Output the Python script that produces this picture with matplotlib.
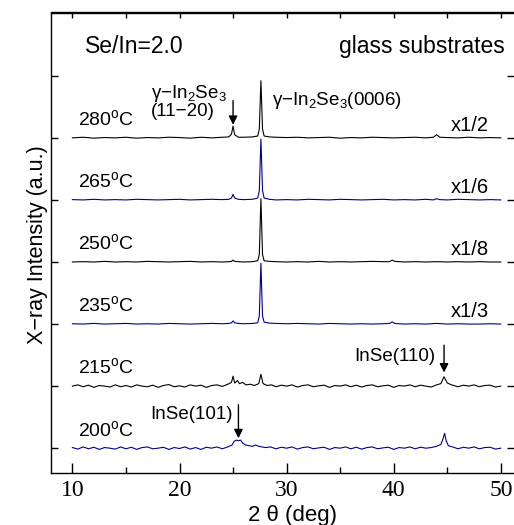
import matplotlib
matplotlib.use("Agg")
import matplotlib.pyplot as plt
import numpy as np

plt.rcParams['font.family'] = ['Liberation Sans', 'DejaVu Sans']
plt.rcParams['mathtext.fontset'] = 'custom'
plt.rcParams['mathtext.rm'] = 'Liberation Sans'
plt.rcParams['mathtext.it'] = 'Liberation Sans:italic'

# ---------------- data (intensity in stacked units) ----------------
x_a = [10, 11, 12, 13, 14, 15, 16, 17, 18, 19,
       20, 21, 22, 23, 24, 24.6, 24.85, 25.0, 25.15, 25.5,
       26, 26.8, 27.3, 27.45, 27.6, 27.75, 27.9, 28.4, 29, 30,
       31, 32, 33, 34, 35, 36, 37, 38, 39, 40,
       41, 42, 43, 43.7, 44.0, 44.3, 45, 46, 47, 48,
       49, 50]
x_b = [10, 11, 12, 13, 14, 15, 16, 17, 18, 19,
       20, 21, 22, 23, 24, 24.6, 24.85, 25.0, 25.15, 25.5,
       26, 26.8, 27.3, 27.45, 27.6, 27.75, 27.9, 28.4, 29, 30,
       31, 32, 33, 34, 35, 36, 37, 38, 39, 39.6,
       39.85, 40.1, 40.5, 41, 42, 43, 44, 45, 46, 47,
       48, 49, 50]

y280 = [0.00, 0.01, -0.005, 0.005, 0.0, 0.01, -0.005, 0.005, 0.0, 0.01,
        0.005, -0.005, 0.01, 0.0, 0.01, 0.015, 0.06, 0.19, 0.05, 0.01,
        0.01, 0.015, 0.03, 0.14, 0.92, 0.14, 0.03, 0.015, 0.01, 0.005,
        0.01, 0.0, 0.005, 0.01, -0.005, 0.005, 0.0, 0.01, 0.005, 0.0,
        0.005, 0.01, 0.0, 0.01, 0.05, 0.01, 0.005, 0.0, 0.01, 0.0,
        0.005, 0.0]
y265 = [0.005, 0.0, 0.01, 0.0, 0.005, 0.0, 0.01, 0.005, 0.0, 0.005,
        0.01, 0.0, 0.005, 0.01, 0.005, 0.01, 0.03, 0.09, 0.03, 0.01,
        0.005, 0.01, 0.03, 0.15, 0.98, 0.15, 0.03, 0.01, 0.0, 0.005,
        0.0, 0.01, 0.005, 0.0, 0.01, 0.005, 0.0, 0.005, 0.01, 0.0,
        0.005, 0.0, 0.01, 0.0, 0.02, 0.005, 0.0, 0.01, 0.005, 0.0,
        0.005, 0.0]
y250 = [0.0, 0.005, 0.0, 0.01, 0.0, 0.005, 0.0, 0.01, 0.005, 0.0,
        0.005, 0.01, 0.0, 0.005, 0.0, 0.005, 0.01, 0.03, 0.01, 0.005,
        0.0, 0.005, 0.02, 0.12, 1.02, 0.12, 0.02, 0.01, 0.005, 0.0,
        0.005, 0.0, 0.01, 0.0, 0.005, 0.0, 0.005, 0.01, 0.005, 0.005,
        0.03, 0.01, 0.005, 0.0, 0.005, 0.0, 0.005, 0.0, 0.005, 0.0,
        0.005, 0.0, 0.0]
y235 = [0.005, 0.0, 0.01, 0.0, 0.005, 0.01, 0.0, 0.005, 0.0, 0.01,
        0.005, 0.0, 0.005, 0.01, 0.005, 0.01, 0.02, 0.05, 0.02, 0.01,
        0.005, 0.01, 0.02, 0.13, 0.98, 0.13, 0.03, 0.015, 0.01, 0.005,
        0.01, 0.005, 0.0, 0.01, 0.005, 0.0, 0.005, 0.0, 0.005, 0.01,
        0.035, 0.01, 0.005, 0.0, 0.005, 0.0, 0.01, 0.0, 0.005, 0.0,
        0.0, 0.005, 0.0]

x215 = [10, 10.5, 11, 11.5, 12, 12.5, 13, 13.5, 14, 14.5,
        15, 15.5, 16, 16.5, 17, 17.5, 18, 18.5, 19, 19.5,
        20, 20.5, 21, 21.5, 22, 22.5, 23, 23.5, 24, 24.5,
        24.85, 25.0, 25.15, 25.4, 25.6, 25.9, 26.2, 26.6, 27.0, 27.4,
        27.6, 27.8, 28.2, 28.6, 29, 29.5, 30, 30.5, 31, 31.5,
        32, 32.5, 33, 33.5, 34, 34.5, 35, 35.5, 36, 36.5,
        37, 37.5, 38, 38.5, 39, 39.5, 40, 40.5, 41, 41.5,
        42, 42.5, 43, 43.5, 44, 44.4, 44.7, 45.0, 45.4, 46,
        46.5, 47, 47.5, 48, 48.5, 49, 49.5, 50]
y215 = [0.0, 0.02, -0.01, 0.015, -0.02, 0.01, 0.0, -0.015, 0.02, -0.01,
        0.01, -0.015, 0.02, 0.0, -0.01, 0.015, -0.02, 0.01, 0.025, -0.01,
        0.005, -0.015, 0.02, 0.0, 0.015, -0.02, 0.01, 0.02, -0.005, 0.03,
        0.06, 0.16, 0.05, 0.09, 0.04, 0.06, 0.02, 0.03, 0.01, 0.04,
        0.19, 0.04, 0.01, 0.02, -0.01, 0.015, 0.0, 0.02, -0.015, 0.01,
        0.02, -0.01, 0.005, 0.015, -0.02, 0.01, 0.0, 0.02, -0.01, 0.015,
        -0.015, 0.01, 0.02, -0.01, 0.005, 0.015, -0.02, 0.01, 0.0, 0.02,
        -0.01, 0.015, 0.0, -0.015, 0.02, 0.04, 0.15, 0.05, 0.02, -0.01,
        0.015, 0.0, 0.02, -0.01, 0.01, 0.015, -0.015, 0.0]

x200 = [10, 10.5, 11, 11.5, 12, 12.5, 13, 13.5, 14, 14.5,
        15, 15.5, 16, 16.5, 17, 17.5, 18, 18.5, 19, 19.5,
        20, 20.5, 21, 21.5, 22, 22.5, 23, 23.5, 24, 24.5,
        24.9, 25.1, 25.3, 25.5, 25.7, 25.9, 26.2, 26.5, 26.8, 27.1,
        27.4, 27.7, 28.0, 28.5, 29, 29.5, 30, 30.5, 31, 31.5,
        32, 32.5, 33, 33.5, 34, 34.5, 35, 35.5, 36, 36.5,
        37, 37.5, 38, 38.5, 39, 39.5, 40, 40.5, 41, 41.5,
        42, 42.5, 43, 43.5, 44, 44.4, 44.6, 44.75, 44.9, 45.1,
        45.5, 46, 46.5, 47, 47.5, 48, 48.5, 49, 49.5, 50]
y200 = [0.01, -0.015, 0.02, -0.01, 0.015, -0.02, 0.01, 0.0, -0.015, 0.02,
        -0.01, 0.015, -0.02, 0.01, 0.02, -0.01, 0.0, 0.015, -0.02, 0.01,
        -0.005, 0.02, -0.015, 0.01, -0.02, 0.015, 0.0, 0.02, -0.01, 0.02,
        0.05, 0.11, 0.13, 0.12, 0.13, 0.08, 0.05, 0.04, 0.03, 0.05,
        0.03, 0.02, 0.01, 0.02, -0.01, 0.015, 0.0, 0.02, -0.015, 0.01,
        0.02, -0.01, 0.005, 0.015, -0.02, 0.01, 0.0, 0.02, -0.01, 0.015,
        -0.015, 0.01, 0.02, -0.01, 0.005, 0.015, -0.02, 0.01, 0.0, 0.02,
        -0.01, 0.015, 0.0, 0.01, 0.03, 0.06, 0.15, 0.24, 0.12, 0.04,
        0.02, -0.01, 0.015, 0.0, 0.02, -0.01, 0.01, 0.015, -0.015, 0.0]

temps = ['200', '215', '235', '250', '265', '280']
scale_labels = {'235': 'x1/3', '250': 'x1/8', '265': 'x1/6', '280': 'x1/2'}
series_x = {'200': x200, '215': x215, '235': x_b, '250': x_b, '265': x_a, '280': x_a}
series_y = {'200': y200, '215': y215, '235': y235, '250': y250, '265': y265, '280': y280}
x_ticks = [10, 20, 30, 40, 50]

# ---------------- figure ----------------
W, H = 514, 525
fig = plt.figure(figsize=(W / 100, H / 100), dpi=100)
ax = fig.add_axes([51 / W, (H - 473) / H, (514 - 51) / W, (473 - 12.5) / H])

BLUE = '#00008c'
for i, t in enumerate(temps):
    col = BLUE if i % 2 == 0 else 'black'
    ax.plot(series_x[t], np.array(series_y[t]) + i, color=col, lw=0.8)
    ax.text(10.5, i + 0.3, t + r'$^{\rm o}$C', fontsize=14, va='center', ha='left')
    if t in scale_labels:
        ax.text(48.9, i + 0.2, scale_labels[t], fontsize=14.5, va='center', ha='right')

ax.set_xlim(8, 8 + 463 / 10.71)
ax.set_ylim(-0.4, 7.02)

# annotations
ax.text(11.2, 6.48, 'Se/In=2.0', fontsize=16.5, va='center', ha='left')
ax.text(50.4, 6.48, 'glass substrates', fontsize=16.5, va='center', ha='right')
ax.text(17.3, 5.72, 'γ−In$_{\\rm 2}$Se$_{\\rm 3}$', fontsize=13.5, va='center', ha='left')
ax.text(17.3, 5.43, '(11−20)', fontsize=13.5, va='center', ha='left')
ax.text(28.6, 5.61, 'γ−In$_{\\rm 2}$Se$_{\\rm 3}$(0006)', fontsize=13.5, va='center', ha='left')
ax.text(36.3, 1.47, 'InSe(110)', fontsize=13.5, va='center', ha='left')
ax.text(17.3, 0.55, 'InSe(101)', fontsize=13.5, va='center', ha='left')

arrow_kw = dict(arrowstyle='-|>', color='black', lw=1.0, mutation_scale=13, shrinkA=0, shrinkB=0)
ax.annotate('', xy=(25.0, 5.21), xytext=(25.0, 5.60), arrowprops=arrow_kw)
ax.annotate('', xy=(44.7, 1.22), xytext=(44.7, 1.66), arrowprops=arrow_kw)
ax.annotate('', xy=(25.5, 0.16), xytext=(25.5, 0.70), arrowprops=arrow_kw)

# axes styling
ax.spines['right'].set_visible(False)
for s in ['left', 'top', 'bottom']:
    ax.spines[s].set_linewidth(1.0)
ax.set_xticks(x_ticks)
ax.set_xticks([15, 25, 35, 45], minor=True)
ax.set_xticklabels([str(v) for v in x_ticks], family='Liberation Serif', fontsize=17)
ax.tick_params(axis='x', which='major', direction='in', length=7, width=1, top=False, pad=5)
ax.tick_params(axis='x', which='minor', direction='in', length=4, width=1, top=False)
ax.set_yticks([0, 1, 2, 3, 4, 5, 6])
ax.set_yticklabels([])
ax.tick_params(axis='y', which='major', direction='in', length=5, width=1, left=True, right=True)

sec = ax.secondary_xaxis('top')
sec.set_xticks([10, 15, 20, 25, 30, 35, 40, 45, 50])
sec.set_xticklabels([])
sec.tick_params(direction='in', length=4, width=1)
sec.spines['top'].set_linewidth(1.0)

ax.set_xlabel('2 θ (deg)', fontsize=16)
ax.xaxis.set_label_coords((293 - 51) / 463, -(515 - 473) / 460.5)
ax.xaxis.label.set_va('center')
ax.set_ylabel('X−ray Intensity (a.u.)', fontsize=15.5)
ax.yaxis.set_label_coords(-(51 - 38) / 463, (473 - 245) / 460.5)
ax.yaxis.label.set_va('center')

fig.savefig('out.png', dpi=100)
